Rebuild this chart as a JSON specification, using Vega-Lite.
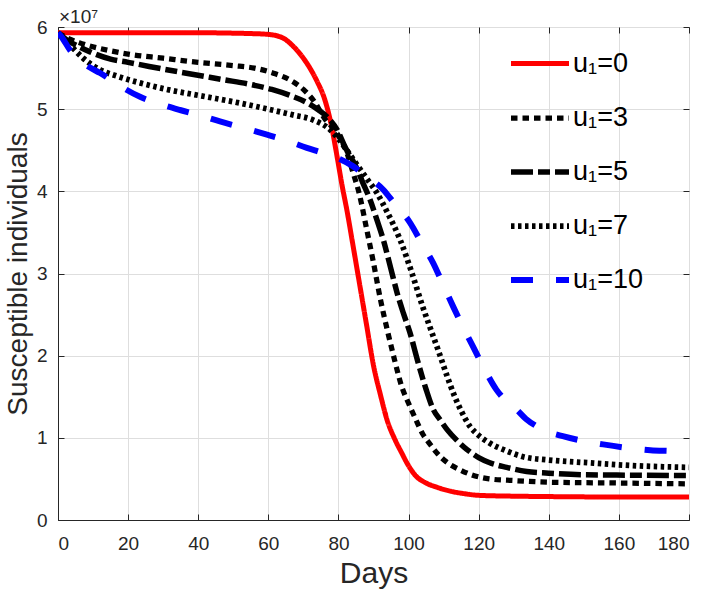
{
  "$schema": "https://vega.github.io/schema/vega-lite/v6.json",
  "width": 631,
  "height": 493,
  "autosize": {"type": "none"},
  "padding": {"left": 58, "top": 27, "right": 19, "bottom": 74},
  "title": {"text": "×10⁷", "anchor": "start", "frame": "group", "font": "Liberation Sans", "fontSize": 19, "fontWeight": "normal", "color": "#262626", "offset": 3, "dx": 1, "dy": 12},
  "config": {
    "view": {"stroke": "#262626", "strokeWidth": 1},
    "axis": {
      "labelFont": "Liberation Sans", "labelFontSize": 19, "labelColor": "#262626",
      "titleFont": "Liberation Sans", "titleFontSize": 30, "titleFontWeight": "normal", "titleColor": "#262626",
      "domainColor": "#262626", "tickColor": "#262626", "gridColor": "#dedede", "gridWidth": 1,
      "tickSize": -6
    },
    "legend": {"labelFont": "Liberation Sans", "labelFontSize": 27, "labelColor": "#000000"}
  },
  "data": {"values": [
    {"u":"u₁=0","day":0,"S":5.93e7},{"u":"u₁=0","day":10,"S":5.93e7},{"u":"u₁=0","day":20,"S":5.93e7},{"u":"u₁=0","day":30,"S":5.93e7},{"u":"u₁=0","day":40,"S":5.93e7},{"u":"u₁=0","day":50,"S":5.925e7},{"u":"u₁=0","day":55,"S":5.92e7},{"u":"u₁=0","day":60,"S":5.91e7},{"u":"u₁=0","day":64,"S":5.87e7},{"u":"u₁=0","day":67,"S":5.77e7},{"u":"u₁=0","day":70,"S":5.62e7},{"u":"u₁=0","day":72,"S":5.49e7},{"u":"u₁=0","day":74,"S":5.33e7},{"u":"u₁=0","day":76,"S":5.13e7},{"u":"u₁=0","day":78,"S":4.8e7},{"u":"u₁=0","day":79.5,"S":4.45e7},{"u":"u₁=0","day":81,"S":4.08e7},{"u":"u₁=0","day":82.5,"S":3.75e7},{"u":"u₁=0","day":84,"S":3.38e7},{"u":"u₁=0","day":86,"S":2.88e7},{"u":"u₁=0","day":88,"S":2.38e7},{"u":"u₁=0","day":90,"S":1.88e7},{"u":"u₁=0","day":92,"S":1.52e7},{"u":"u₁=0","day":94,"S":1.2e7},{"u":"u₁=0","day":96,"S":0.99e7},{"u":"u₁=0","day":98,"S":0.82e7},{"u":"u₁=0","day":100,"S":0.66e7},{"u":"u₁=0","day":102,"S":0.54e7},{"u":"u₁=0","day":105,"S":0.45e7},{"u":"u₁=0","day":108,"S":0.4e7},{"u":"u₁=0","day":112,"S":0.35e7},{"u":"u₁=0","day":116,"S":0.32e7},{"u":"u₁=0","day":120,"S":0.3e7},{"u":"u₁=0","day":130,"S":0.29e7},{"u":"u₁=0","day":140,"S":0.285e7},{"u":"u₁=0","day":160,"S":0.28e7},{"u":"u₁=0","day":180,"S":0.28e7},

    {"u":"u₁=3","day":0,"S":5.93e7},{"u":"u₁=3","day":3,"S":5.86e7},{"u":"u₁=3","day":6,"S":5.81e7},{"u":"u₁=3","day":9,"S":5.77e7},{"u":"u₁=3","day":15,"S":5.71e7},{"u":"u₁=3","day":20,"S":5.67e7},{"u":"u₁=3","day":30,"S":5.62e7},{"u":"u₁=3","day":40,"S":5.57e7},{"u":"u₁=3","day":50,"S":5.53e7},{"u":"u₁=3","day":56,"S":5.5e7},{"u":"u₁=3","day":62,"S":5.43e7},{"u":"u₁=3","day":66,"S":5.36e7},{"u":"u₁=3","day":70,"S":5.24e7},{"u":"u₁=3","day":73,"S":5.1e7},{"u":"u₁=3","day":76,"S":4.89e7},{"u":"u₁=3","day":79.5,"S":4.71e7},{"u":"u₁=3","day":82.4,"S":4.47e7},{"u":"u₁=3","day":84,"S":4.25e7},{"u":"u₁=3","day":86,"S":3.96e7},{"u":"u₁=3","day":88,"S":3.55e7},{"u":"u₁=3","day":90,"S":3.13e7},{"u":"u₁=3","day":92,"S":2.68e7},{"u":"u₁=3","day":94,"S":2.3e7},{"u":"u₁=3","day":96,"S":1.95e7},{"u":"u₁=3","day":98,"S":1.63e7},{"u":"u₁=3","day":100,"S":1.42e7},{"u":"u₁=3","day":102,"S":1.23e7},{"u":"u₁=3","day":104,"S":1.05e7},{"u":"u₁=3","day":106,"S":0.93e7},{"u":"u₁=3","day":108,"S":0.82e7},{"u":"u₁=3","day":111,"S":0.7e7},{"u":"u₁=3","day":114.7,"S":0.61e7},{"u":"u₁=3","day":118,"S":0.55e7},{"u":"u₁=3","day":123,"S":0.5e7},{"u":"u₁=3","day":130,"S":0.48e7},{"u":"u₁=3","day":140,"S":0.46e7},{"u":"u₁=3","day":160,"S":0.45e7},{"u":"u₁=3","day":180,"S":0.44e7},

    {"u":"u₁=5","day":0,"S":5.93e7},{"u":"u₁=5","day":3,"S":5.83e7},{"u":"u₁=5","day":6,"S":5.76e7},{"u":"u₁=5","day":9,"S":5.7e7},{"u":"u₁=5","day":15,"S":5.61e7},{"u":"u₁=5","day":20,"S":5.57e7},{"u":"u₁=5","day":26,"S":5.52e7},{"u":"u₁=5","day":35,"S":5.45e7},{"u":"u₁=5","day":47,"S":5.36e7},{"u":"u₁=5","day":55,"S":5.3e7},{"u":"u₁=5","day":61,"S":5.24e7},{"u":"u₁=5","day":66,"S":5.17e7},{"u":"u₁=5","day":71,"S":5.08e7},{"u":"u₁=5","day":74,"S":5.0e7},{"u":"u₁=5","day":76.7,"S":4.91e7},{"u":"u₁=5","day":79.6,"S":4.75e7},{"u":"u₁=5","day":82,"S":4.53e7},{"u":"u₁=5","day":85,"S":4.3e7},{"u":"u₁=5","day":87,"S":4.1e7},{"u":"u₁=5","day":89,"S":3.9e7},{"u":"u₁=5","day":91,"S":3.65e7},{"u":"u₁=5","day":92.8,"S":3.41e7},{"u":"u₁=5","day":95,"S":3.05e7},{"u":"u₁=5","day":96.7,"S":2.77e7},{"u":"u₁=5","day":98.5,"S":2.52e7},{"u":"u₁=5","day":100.4,"S":2.28e7},{"u":"u₁=5","day":102.5,"S":1.95e7},{"u":"u₁=5","day":105,"S":1.59e7},{"u":"u₁=5","day":107,"S":1.35e7},{"u":"u₁=5","day":109,"S":1.22e7},{"u":"u₁=5","day":111,"S":1.1e7},{"u":"u₁=5","day":114,"S":0.96e7},{"u":"u₁=5","day":116.6,"S":0.86e7},{"u":"u₁=5","day":120,"S":0.76e7},{"u":"u₁=5","day":123,"S":0.7e7},{"u":"u₁=5","day":128,"S":0.64e7},{"u":"u₁=5","day":133.7,"S":0.59e7},{"u":"u₁=5","day":140,"S":0.57e7},{"u":"u₁=5","day":150,"S":0.55e7},{"u":"u₁=5","day":165,"S":0.545e7},{"u":"u₁=5","day":180,"S":0.54e7},

    {"u":"u₁=7","day":0,"S":5.93e7},{"u":"u₁=7","day":3,"S":5.8e7},{"u":"u₁=7","day":7.2,"S":5.62e7},{"u":"u₁=7","day":12,"S":5.48e7},{"u":"u₁=7","day":17,"S":5.4e7},{"u":"u₁=7","day":23.4,"S":5.32e7},{"u":"u₁=7","day":30,"S":5.25e7},{"u":"u₁=7","day":42.4,"S":5.15e7},{"u":"u₁=7","day":50,"S":5.09e7},{"u":"u₁=7","day":61,"S":4.99e7},{"u":"u₁=7","day":67,"S":4.93e7},{"u":"u₁=7","day":72.7,"S":4.87e7},{"u":"u₁=7","day":77.6,"S":4.75e7},{"u":"u₁=7","day":80,"S":4.64e7},{"u":"u₁=7","day":82.4,"S":4.5e7},{"u":"u₁=7","day":85,"S":4.34e7},{"u":"u₁=7","day":88,"S":4.16e7},{"u":"u₁=7","day":91,"S":3.98e7},{"u":"u₁=7","day":94,"S":3.74e7},{"u":"u₁=7","day":97.6,"S":3.41e7},{"u":"u₁=7","day":101,"S":3.0e7},{"u":"u₁=7","day":104,"S":2.6e7},{"u":"u₁=7","day":106.5,"S":2.3e7},{"u":"u₁=7","day":109,"S":2.0e7},{"u":"u₁=7","day":111,"S":1.75e7},{"u":"u₁=7","day":113,"S":1.52e7},{"u":"u₁=7","day":115,"S":1.33e7},{"u":"u₁=7","day":117.5,"S":1.14e7},{"u":"u₁=7","day":120,"S":1.03e7},{"u":"u₁=7","day":123,"S":0.94e7},{"u":"u₁=7","day":128,"S":0.84e7},{"u":"u₁=7","day":132.7,"S":0.77e7},{"u":"u₁=7","day":140,"S":0.73e7},{"u":"u₁=7","day":150,"S":0.7e7},{"u":"u₁=7","day":165,"S":0.66e7},{"u":"u₁=7","day":180,"S":0.64e7},

    {"u":"u₁=10","day":0,"S":5.93e7},{"u":"u₁=10","day":1,"S":5.88e7},{"u":"u₁=10","day":3.4,"S":5.72e7},{"u":"u₁=10","day":6,"S":5.6e7},{"u":"u₁=10","day":9,"S":5.51e7},{"u":"u₁=10","day":12,"S":5.44e7},{"u":"u₁=10","day":17,"S":5.3e7},{"u":"u₁=10","day":23.4,"S":5.15e7},{"u":"u₁=10","day":30,"S":5.05e7},{"u":"u₁=10","day":34.8,"S":4.99e7},{"u":"u₁=10","day":40,"S":4.93e7},{"u":"u₁=10","day":46.2,"S":4.85e7},{"u":"u₁=10","day":53,"S":4.77e7},{"u":"u₁=10","day":59.6,"S":4.69e7},{"u":"u₁=10","day":65,"S":4.62e7},{"u":"u₁=10","day":71,"S":4.53e7},{"u":"u₁=10","day":76,"S":4.46e7},{"u":"u₁=10","day":80.5,"S":4.39e7},{"u":"u₁=10","day":84,"S":4.31e7},{"u":"u₁=10","day":88,"S":4.18e7},{"u":"u₁=10","day":92.8,"S":4.02e7},{"u":"u₁=10","day":96,"S":3.85e7},{"u":"u₁=10","day":100.4,"S":3.62e7},{"u":"u₁=10","day":104,"S":3.35e7},{"u":"u₁=10","day":107,"S":3.13e7},{"u":"u₁=10","day":110,"S":2.85e7},{"u":"u₁=10","day":112.7,"S":2.6e7},{"u":"u₁=10","day":115.5,"S":2.35e7},{"u":"u₁=10","day":118.4,"S":2.11e7},{"u":"u₁=10","day":121.5,"S":1.85e7},{"u":"u₁=10","day":125,"S":1.59e7},{"u":"u₁=10","day":128,"S":1.44e7},{"u":"u₁=10","day":130.9,"S":1.34e7},{"u":"u₁=10","day":133.5,"S":1.23e7},{"u":"u₁=10","day":136.6,"S":1.14e7},{"u":"u₁=10","day":140,"S":1.07e7},{"u":"u₁=10","day":144,"S":1.02e7},{"u":"u₁=10","day":150,"S":0.96e7},{"u":"u₁=10","day":155.5,"S":0.92e7},{"u":"u₁=10","day":162,"S":0.88e7},{"u":"u₁=10","day":169,"S":0.85e7},{"u":"u₁=10","day":175,"S":0.84e7},{"u":"u₁=10","day":180,"S":0.83e7}
  ]},
  "layer": [
    {
      "mark": {"type": "line", "interpolate": "monotone", "strokeCap": "butt", "clip": true},
      "encoding": {
        "x": {"field": "day", "type": "quantitative", "scale": {"domain": [0, 180], "nice": false},
              "axis": {"values": [0,20,40,60,80,100,120,140,160,180], "title": "Days", "grid": true, "labelPadding": 20, "titlePadding": 5}},
        "y": {"field": "S", "type": "quantitative", "scale": {"domain": [0, 6e7], "nice": false},
              "axis": {"values": [0,1e7,2e7,3e7,4e7,5e7,6e7], "labelExpr": "format(datum.value/1e7,'d')", "title": "Susceptible individuals", "titleFontSize": 28, "grid": true, "labelPadding": 17, "titlePadding": 4}},
        "color": {"field": "u", "type": "nominal",
                  "scale": {"domain": ["u₁=0","u₁=3","u₁=5","u₁=7","u₁=10"], "range": ["#ff0000","#000000","#000000","#000000","#0000ff"]},
                  "legend": {"title": null, "orient": "none", "legendX": 450, "legendY": 5, "symbolType": "stroke", "symbolSize": 3364, "labelOffset": 1, "rowPadding": 9, "padding": 0, "symbolOffset": 0}},
        "strokeDash": {"field": "u", "type": "nominal",
                  "scale": {"domain": ["u₁=0","u₁=3","u₁=5","u₁=7","u₁=10"], "range": [[1,0],[6.5,5],[22,5,12,5],[3.5,3.5],[22,23]]}},
        "strokeWidth": {"field": "u", "type": "nominal",
                  "scale": {"domain": ["u₁=0","u₁=3","u₁=5","u₁=7","u₁=10"], "range": [5, 6, 6, 3.5, 6]}}
      }
    },
    {
      "mark": {"type": "line", "strokeOpacity": 0},
      "encoding": {
        "x": {"field": "day", "type": "quantitative", "axis": {"orient": "top", "values": [0,20,40,60,80,100,120,140,160,180], "labels": false, "title": null, "grid": false, "domain": false}},
        "y": {"field": "S", "type": "quantitative", "axis": {"orient": "right", "values": [0,1e7,2e7,3e7,4e7,5e7,6e7], "labels": false, "title": null, "grid": false, "domain": false}},
        "detail": {"field": "u"}
      }
    }
  ],
  "resolve": {"axis": {"x": "independent", "y": "independent"}}
}
